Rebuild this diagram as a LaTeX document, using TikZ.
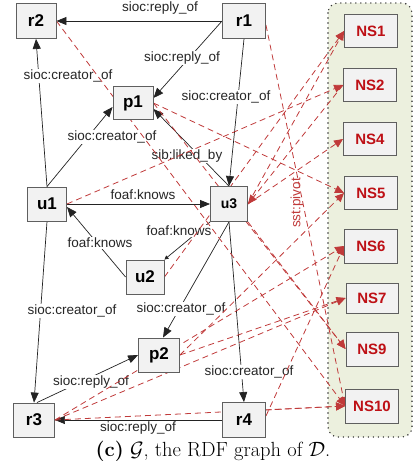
\documentclass[tikz,border=0pt]{standalone}
\usepackage{fontspec}
\setsansfont{Liberation Sans}
\usetikzlibrary{arrows.meta}
\definecolor{boxfill}{RGB}{242,242,242}
\definecolor{boxline}{RGB}{95,95,95}
\definecolor{nsred}{RGB}{190,16,22}
\definecolor{pivred}{RGB}{192,58,58}
\definecolor{panel}{RGB}{236,240,222}
\definecolor{edgec}{RGB}{35,35,35}
\pgfdeclarelayer{bg}
\pgfdeclarelayer{edges}
\pgfsetlayers{bg,edges,main}
\begin{document}
\begin{tikzpicture}[x=1pt,y=-1pt,
 box/.style={draw=boxline, fill=boxfill, line width=0.9pt, inner sep=0pt,
   font=\sffamily\bfseries\fontsize{17}{17}\selectfont},
 nsbox/.style={box, text=nsred, minimum width=53pt, minimum height=33pt,
   font=\sffamily\bfseries\fontsize{15}{15}\selectfont},
 lbl/.style={font=\sffamily\fontsize{13.5}{14}\selectfont, fill=white, inner sep=0.6pt, text=black!85},
 rel/.style={draw=edgec, line width=0.7pt, -{Triangle[length=10pt,width=8pt]}},
 smallrel/.style={draw=edgec, line width=0.7pt, -{Triangle[length=4pt,width=4pt]}},
 piv/.style={draw=pivred, line width=0.8pt, dash pattern=on 6pt off 4pt, -{Triangle[length=9pt,width=8pt]}},
]
\useasboundingbox (0,0) rectangle (420,461);
\begin{pgfonlayer}{bg}
\path[draw=black!80, fill=panel, line width=1.6pt, line cap=round, dash pattern=on 0pt off 5pt, rounded corners=10pt] (328,3) rectangle (412,437);
\end{pgfonlayer}
% data nodes
\node[box, minimum width=40pt, minimum height=35pt] (r2) at (36,21) {r2};
\node[box, minimum width=43pt, minimum height=35pt] (r1) at (244,21) {r1};
\node[box, minimum width=40pt, minimum height=33pt] (p1) at (133,103) {p1};
\node[box, minimum width=39pt, minimum height=34pt] (u1) at (47,204) {u1};
\node[box, minimum width=37pt, minimum height=35pt, font=\sffamily\bfseries\fontsize{14}{14}\selectfont] (u3) at (229,204) {u3};
\node[box, minimum width=38pt, minimum height=34pt] (u2) at (145,277) {u2};
\node[box, minimum width=41pt, minimum height=34pt] (p2) at (159,355) {p2};
\node[box, minimum width=41pt, minimum height=34pt] (r3) at (34,420) {r3};
\node[box, minimum width=43pt, minimum height=35pt] (r4) at (244,420) {r4};
% summary nodes
\node[nsbox] (NS1) at (371,31) {NS1};
\node[nsbox] (NS2) at (370,85) {NS2};
\node[nsbox] (NS4) at (370,139) {NS4};
\node[nsbox] (NS5) at (371,193) {NS5};
\node[nsbox, minimum height=34pt] (NS6) at (371,246) {NS6};
\node[nsbox, minimum width=52pt, minimum height=30pt] (NS7) at (372,298) {NS7};
\node[nsbox, minimum width=52pt, minimum height=34pt] (NS9) at (372,349) {NS9};
\node[nsbox, minimum height=34pt] (NS10) at (372,406) {NS10};
\begin{pgfonlayer}{edges}
% black relations
\draw[rel] (r1.west) -- (r2.east);
\draw[rel] (r1.west) -- ([yshift=5pt]p1.east);
\draw[rel] (r1.south) -- (u3.north);
\draw[rel] (u1.north) -- (r2.south);
\draw[rel] (u1.north) -- ([yshift=-4pt]p1.west);
\draw[rel] (u3.north) -- ([yshift=-6pt]p1.east);
\draw[rel] (u1.east) -- (u3.west);
\draw[rel] (u2.west) -- ([yshift=-3pt]u1.east);
\draw[smallrel] (u3.south west) -- (u2.north east);
\draw[rel] (u1.south) -- (r3.north);
\draw[rel] (u3.south) -- ([xshift=4pt]p2.north);
\draw[rel] ([xshift=3pt]r3.north) -- (p2.west);
\draw[rel] (u3.south) -- (r4.north);
\draw[rel] (r4.west) -- (r3.east);
% labels
\node[lbl] (l1) at (160,8) {sioc:reply\_of};
\node[lbl] (l2) at (182,58) {sioc:reply\_of};
\node[lbl] (l3) at (226,97) {sioc:creator\_of};
\node[lbl] (l4) at (68,76) {sioc:creator\_of};
\node[lbl] (l5) at (112,137) {sioc:creator\_of};
\node[lbl] (l6) at (187,156) {sib:liked\_by};
\node[lbl] (l7) at (143,195) {foaf:knows};
\node[lbl] (l8) at (100,243) {foaf:knows};
\node[lbl] (l9) at (179,231) {foaf:knows};
\node[lbl] (l10) at (72,311) {sioc:creator\_of};
\node[lbl] (l11) at (181,309) {sioc:creator\_of};
\node[lbl] (l12) at (91,382) {sioc:reply\_of};
\node[lbl] (l13) at (249,372) {sioc:creator\_of};
\node[lbl, inner sep=0pt] (l14) at (138,428.5) {sioc:reply\_of};
% pivot edges
\draw[piv] (r2.east) -- (NS10.west);
\draw[piv] ([yshift=-4pt]r1.east) -- (NS10.west);
\draw[piv] (p1.east) -- (NS5.west);
\draw[piv] (p1.east) -- (NS9.west);
\draw[piv] (u1.east) -- (NS2.west);
\draw[piv] (u2.east) -- (NS1.west);
\draw[piv] (u3.east) -- (NS1.west);
\draw[piv] (NS2.west) -- (u3.east);
\draw[piv] (u3.east) -- (NS4.west);
\draw[piv] (u3.south east) -- (NS9.west);
\draw[piv] (p2.east) -- (NS5.west);
\draw[piv] (p2.east) -- (NS7.west);
\draw[piv] (r3.east) -- (NS6.west);
\draw[piv] (r3.east) -- (NS7.west);
\draw[piv] (r3.east) -- (NS10.west);
\draw[piv] ([yshift=10pt]r4.east) -- (NS10.west);
\draw[piv] ([yshift=4pt]r4.east) -- (NS6.west);
\node[font=\sffamily\fontsize{13.5}{14}\selectfont, text=pivred, rotate=90] (pv) at (297,203) {sst:pivot};
\end{pgfonlayer}
\node[inner sep=0pt] (cap) at (213,451) {\fontsize{20.5}{22}\selectfont\textbf{(c)} $\mathcal{G}$, the RDF graph of $\mathcal{D}$.};
\end{tikzpicture}
\end{document}
